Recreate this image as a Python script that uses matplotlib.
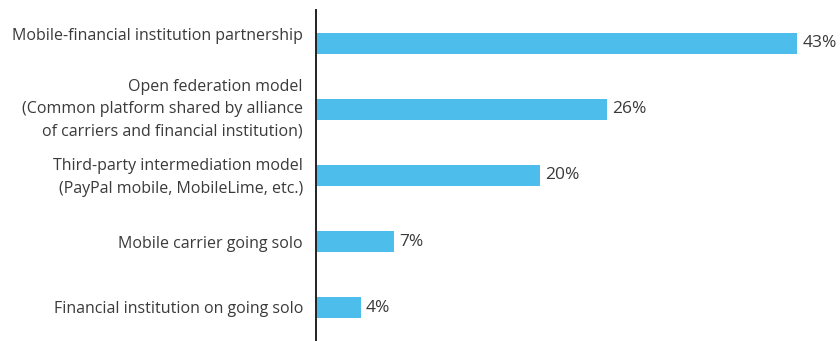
import matplotlib
matplotlib.use("Agg")
import matplotlib.pyplot as plt

categories = [
    "Mobile-financial institution partnership",
    "Open federation model\n(Common platform shared by alliance\nof carriers and financial institution)",
    "Third-party intermediation model\n(PayPal mobile, MobileLime, etc.)",
    "Mobile carrier going solo",
    "Financial institution on going solo",
]
values = [43, 26, 20, 7, 4]

plt.rcParams["font.family"] = ["Open Sans", "DejaVu Sans"]
text_color = "#3a3a3a"
bar_color = "#4dbdec"

fig = plt.figure(figsize=(8.4, 3.41), dpi=100)
ax = fig.add_axes([316 / 840, 0, 1 - 316 / 840, 331 / 341])

pos = list(range(len(values)))
ax.barh(pos, values, height=0.32, color=bar_color)

for p, v in zip(pos, values):
    ax.text(v + 0.45, p, f"{v}%", va="center", ha="left",
            fontsize=12.5, color=text_color)

# category labels left of the axis; the top one sits a little high
label_shift = [7, 0, -2, -2, -1]
for p, name, dy in zip(pos, categories, label_shift):
    ax.annotate(name, xy=(0, p), xycoords=ax.get_yaxis_transform(),
                xytext=(-13, dy), textcoords="offset pixels",
                ha="right", va="center", fontsize=11.5,
                color=text_color, linespacing=1.55)

ax.set_xlim(0, 46.8)
ax.set_ylim(4.5, -0.5)
ax.set_xticks([])
ax.set_yticks([])

for side in ["top", "right", "bottom"]:
    ax.spines[side].set_visible(False)
ax.spines["left"].set_color("#222222")
ax.spines["left"].set_linewidth(1.4)

fig.savefig("out.png", dpi=100)
